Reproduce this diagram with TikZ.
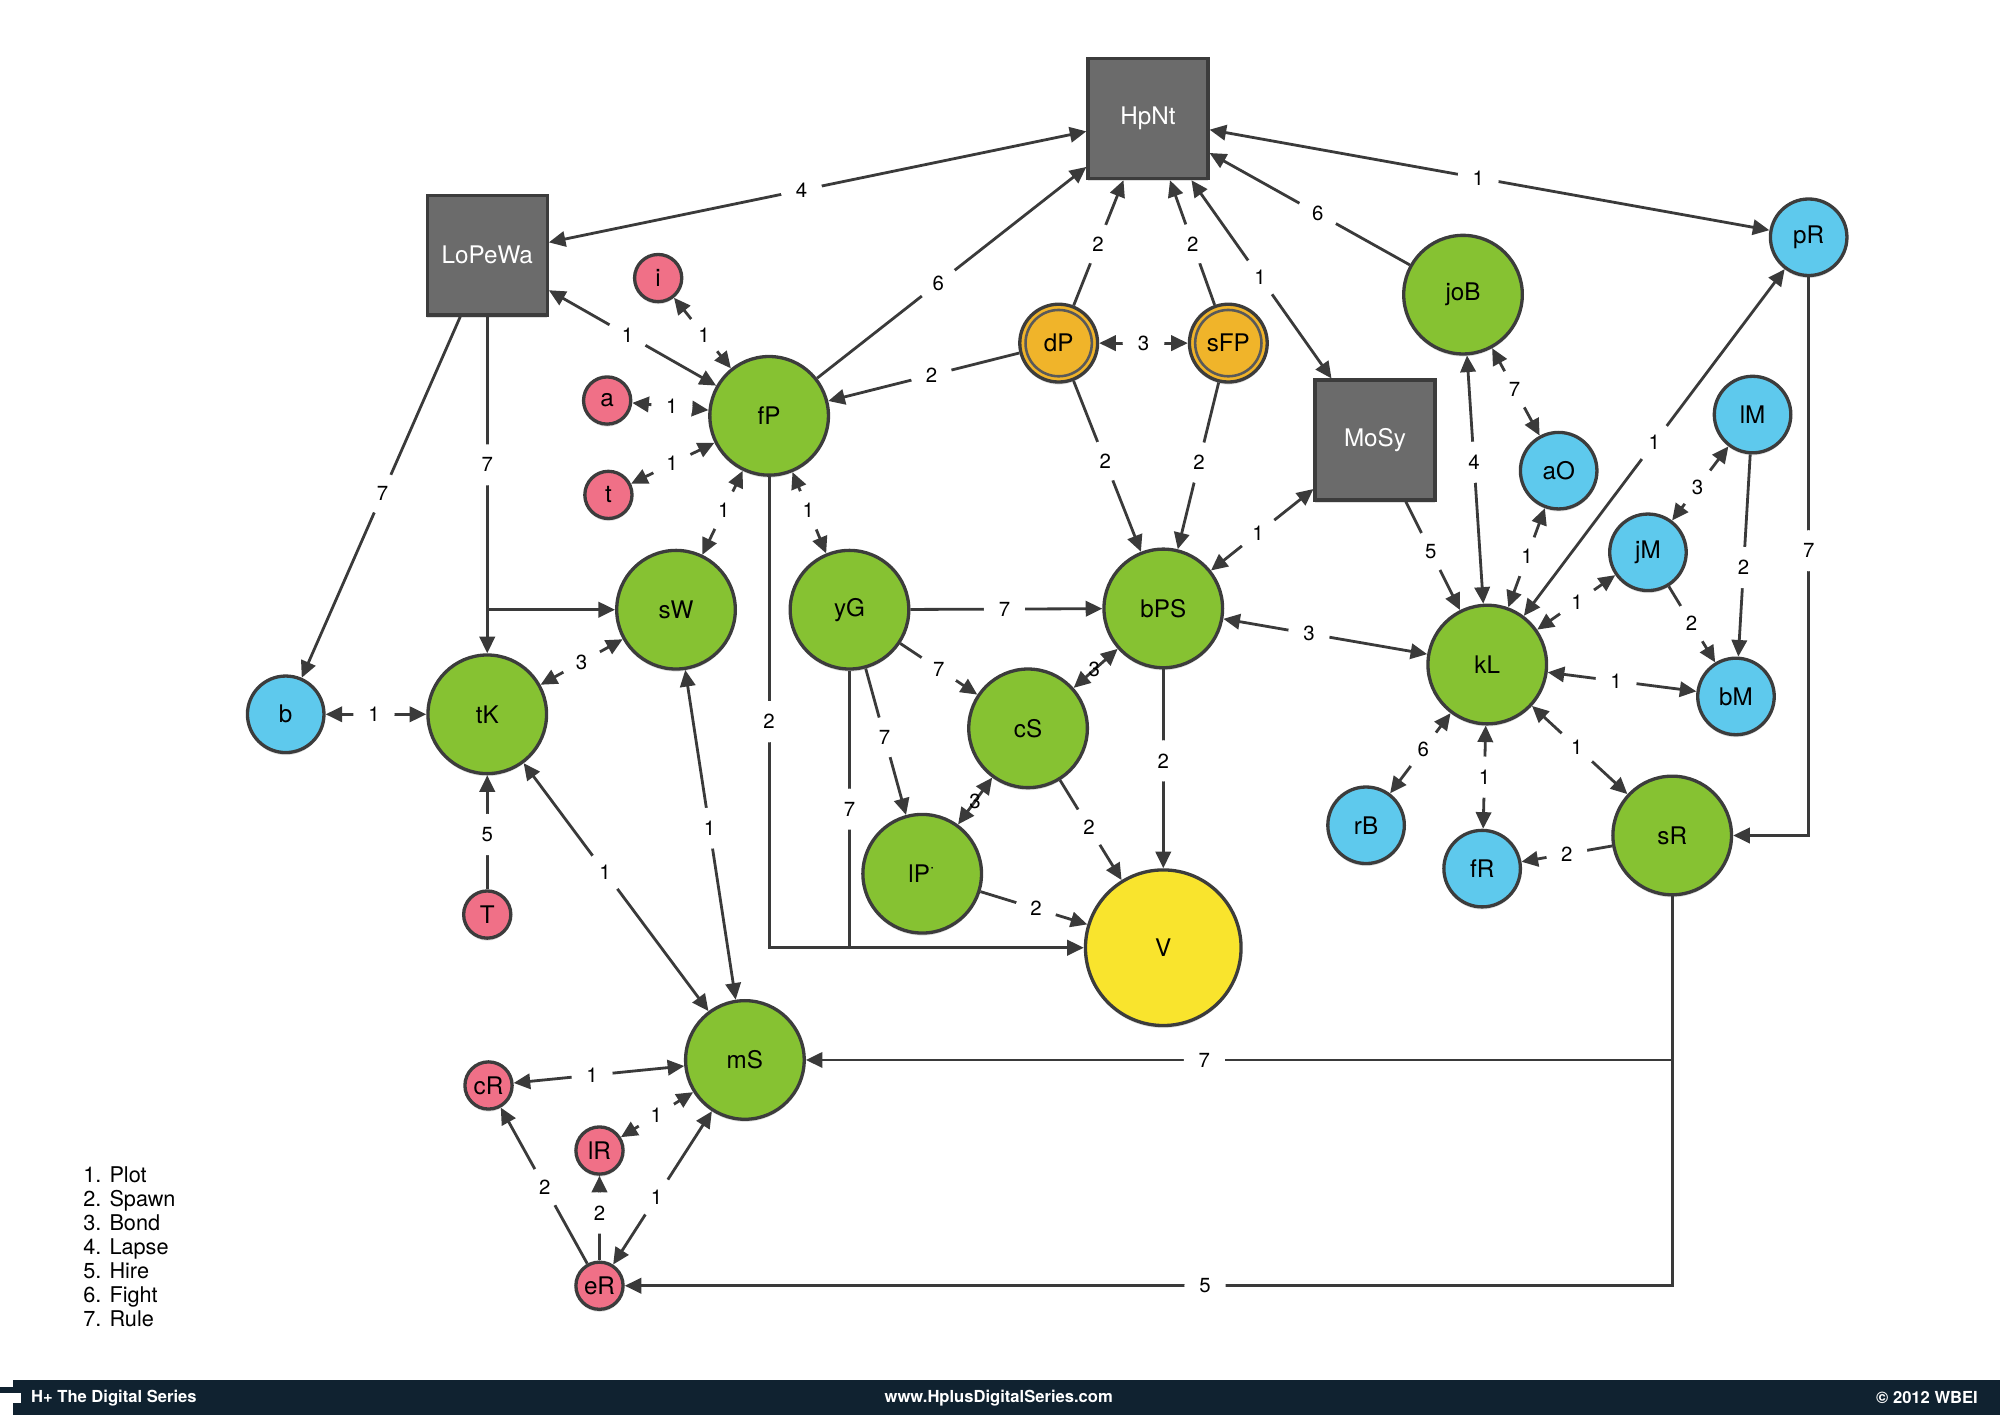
\documentclass[tikz,border=0pt]{standalone}
\usepackage{fontspec}
\setmainfont{TeX Gyre Heros}
\usetikzlibrary{arrows.meta,shadows}
\definecolor{cgreen}{RGB}{134,194,50}
\definecolor{cblue}{RGB}{94,201,237}
\definecolor{cpink}{RGB}{240,112,135}
\definecolor{corange}{RGB}{240,180,42}
\definecolor{cyellow}{RGB}{249,228,45}
\definecolor{cgray}{RGB}{107,107,107}
\definecolor{cline}{RGB}{58,58,58}
\definecolor{cborder}{RGB}{60,60,60}
\definecolor{cfoot}{RGB}{16,34,48}
\begin{document}
\begin{tikzpicture}[x=0.5pt,y=-0.5pt,
  shad/.style={drop shadow={shadow xshift=0pt,shadow yshift=-1pt,opacity=0.25}},
  base/.style={circle,draw=cborder,line width=1.3pt,inner sep=0pt,shad,
    font=\fontsize{9.5}{11}\selectfont,text=black},
  gnode/.style={base,fill=cgreen,minimum size=46.5pt},
  bnode/.style={base,fill=cblue,minimum size=30pt},
  pnode/.style={base,fill=cpink,minimum size=18.5pt},
  onode/.style={base,fill=corange,minimum size=30.5pt},
  ynode/.style={base,fill=cyellow,minimum size=61pt},
  snode/.style={rectangle,draw=cborder,fill=cgray,line width=1.3pt,minimum size=47pt,
    inner sep=0pt,shad,text=white,font=\fontsize{9.5}{11}\selectfont},
  ringline/.style={draw=cborder!85,line width=1pt},
  edge/.style={draw=cline,line width=1.1pt},
  ar/.style={edge,-{Triangle[length=6.5pt,width=6pt]}},
  bi/.style={edge,{Triangle[length=6.5pt,width=6pt]}-{Triangle[length=6.5pt,width=6pt]}},
  lab/.style={circle,fill=white,inner sep=3.2pt,font=\fontsize{8}{9}\selectfont,text=black},
  labt/.style={fill=none,inner sep=0.5pt,font=\fontsize{8}{9}\selectfont,text=black},
]
\useasboundingbox (0,0) rectangle (1568,1109.4);

% squares
\node[snode] (HpNt) at (900,93) {HpNt};
\node[snode] (LoPeWa) at (382,200) {LoPeWa};
\node[snode] (MoSy) at (1078,345) {MoSy};

% green
\node[gnode] (fP) at (603,326) {fP};
\node[gnode] (sW) at (530,478) {sW};
\node[gnode] (yG) at (666,478) {yG};
\node[gnode] (tK) at (382,560) {tK};
\node[gnode] (bPS) at (912,477) {bPS};
\node[gnode] (cS) at (806,571) {cS};
\node[gnode] (lP) at (723,685) {lP\textsuperscript{·}};
\node[gnode] (joB) at (1147,231) {joB};
\node[gnode] (kL) at (1166,521) {kL};
\node[gnode] (sR) at (1311,655) {sR};
\node[gnode] (mS) at (584,831) {mS};
\node[ynode] (V) at (912,743) {V};

% blue
\node[bnode] (b) at (224,560) {b};
\node[bnode] (pR) at (1418,186) {pR};
\node[bnode] (lM) at (1374,325) {lM};
\node[bnode] (aO) at (1222,369) {aO};
\node[bnode] (jM) at (1292,433) {jM};
\node[bnode] (bM) at (1361,546) {bM};
\node[bnode] (rB) at (1071,647) {rB};
\node[bnode] (fR) at (1162,681) {fR};

% pink
\node[pnode] (i) at (516,218) {i};
\node[pnode] (a) at (476,314) {a};
\node[pnode] (t) at (477,388) {t};
\node[pnode] (T) at (382,717) {T};
\node[pnode] (cR) at (383,851) {cR};
\node[pnode] (lR) at (470,902) {lR};
\node[pnode] (eR) at (470,1008) {eR};

% orange double circles
\node[onode] (dP) at (830,269) {dP};
\node[onode] (sFP) at (963,269) {sFP};
\draw[ringline] (dP.center) circle[radius=13pt];
\draw[ringline] (sFP.center) circle[radius=13pt];

% edges
\draw[bi] (LoPeWa) -- node[lab,pos=.47]{4} (HpNt);
\draw[ar] (fP) -- node[lab,pos=.45]{6} (HpNt);
\draw[ar] (dP) -- node[lab,pos=.49]{2} (HpNt);
\draw[ar] (sFP) -- node[lab,pos=.49]{2} (HpNt);
\draw[bi] (HpNt) -- node[lab,pos=.49]{1} (MoSy);
\draw[ar] (joB) -- node[lab,pos=.46]{6} (HpNt);
\draw[bi] (HpNt) -- node[lab,pos=.48]{1} (pR);
\draw[bi] (LoPeWa) -- node[lab,pos=.47]{1} (fP);
\draw[bi] (i) -- node[lab,pos=.53]{1} (fP);
\draw[bi] (a) -- node[lab,pos=.52]{1} (fP);
\draw[bi] (t) -- node[lab,pos=.49]{1} (fP);
\draw[ar] (dP) -- node[lab,pos=.46]{2} (fP);
\draw[bi] (dP) -- node[lab]{3} (sFP);
\draw[ar] (dP) -- node[lab,pos=.47]{2} (bPS);
\draw[ar] (sFP) -- node[lab,pos=.48]{2} (bPS);
\draw[bi] (MoSy) -- node[lab,pos=.54]{1} (bPS);
\draw[ar] (MoSy) -- node[lab,pos=.46]{5} (kL);
\draw[bi] (joB) -- node[lab,pos=.43]{4} (kL);
\draw[bi] (joB) -- node[lab,pos=.47]{7} (aO);
\draw[bi] (aO) -- node[lab,pos=.49]{1} (kL);
\draw[bi] (pR) -- node[lab,pos=.5]{1} (kL);
\draw[bi] (lM) -- node[lab,pos=.55]{3} (jM);
\draw[ar] (lM) -- node[lab,pos=.56]{2} (bM);
\draw[ar] (jM) -- node[lab,pos=.49]{2} (bM);
\draw[bi] (jM) -- node[lab,pos=.49]{1} (kL);
\draw[bi] (kL) -- node[lab,pos=.46]{1} (bM);
\draw[bi] (bPS) -- node[lab,pos=.42]{3} (kL);
\draw[ar] (pR.south) -- node[lab,pos=.49]{7} (pR.south |- sR.east) -- (sR.east);
\draw[bi] (kL) -- node[lab,pos=.45]{6} (rB);
\draw[bi] (kL) -- node[lab,pos=.5]{1} (fR);
\draw[bi] (kL) -- node[lab,pos=.47]{1} (sR);
\draw[ar] (sR) -- node[lab,pos=.5]{2} (fR);
\coordinate (sRm) at (sR.south |- mS.east);
\draw[ar] (sR.south) -- (sRm) -- node[lab,pos=.54]{7} (mS.east);
\draw[ar] (sRm) -- (sR.south |- eR.east) -- node[lab,pos=.446]{5} (eR.east);
\draw[ar] (yG) -- node[lab,pos=.49]{7} (bPS);
\draw[ar] (yG) -- node[lab,pos=.5]{7} (cS);
\draw[ar] (yG) -- node[lab,pos=.47]{7} (lP);
\draw[ar] (fP.south) -- node[lab,pos=.52]{2} (fP.south |- V.west) -- (V.west);
\draw[edge] (yG.south) -- node[lab,pos=.5]{7} (yG.south |- V.west);
\draw[bi] (bPS) -- node[labt,pos=.53]{3} (cS);
\draw[bi] (cS) -- node[labt,pos=.5]{3} (lP);
\draw[ar] (cS) -- node[lab,pos=.47]{2} (V);
\draw[ar] (lP) -- node[lab,pos=.52]{2} (V);
\draw[ar] (bPS) -- node[lab,pos=.46]{2} (V);
\draw[bi] (fP) -- node[lab,pos=.47]{1} (sW);
\draw[bi] (fP) -- node[lab,pos=.47]{1} (yG);
\draw[ar] (LoPeWa) -- node[lab,pos=.49]{7} (b);
\draw[ar] (LoPeWa.south) -- node[lab,pos=.44]{7} (tK.north);
\coordinate (br) at (LoPeWa.south |- sW.west);
\draw[ar] (br) -- (sW.west);
\draw[bi] (tK) -- node[lab,pos=.5]{3} (sW);
\draw[bi] (b) -- node[lab,pos=.48]{1} (tK);
\draw[ar] (T) -- node[lab,pos=.48]{5} (tK);
\draw[bi] (tK) -- node[lab,pos=.44]{1} (mS);
\draw[bi] (sW) -- node[lab,pos=.48]{1} (mS);
\draw[bi] (cR) -- node[lab,pos=.46]{1} (mS);
\draw[bi] (lR) -- node[lab,pos=.49]{1} (mS);
\draw[bi] (eR) -- node[lab,pos=.44]{1} (mS);
\draw[ar] (eR) -- node[lab,pos=.49]{2} (cR);
\draw[ar] (eR) -- node[lab,pos=.56]{2} (lR);

% legend
\node[anchor=north west,align=left,inner sep=0pt,font=\fontsize{8.5}{9.45}\selectfont] (legend) at (65,914)
  {1. Plot\\2. Spawn\\3. Bond\\4. Lapse\\5. Hire\\6. Fight\\7. Rule};

% footer
\fill[cfoot] (0,1082) rectangle (1568,1109.4);
\fill[white] (0,1081) rectangle (10,1087.5);
\fill[white] (0,1092) rectangle (16.5,1100);
\fill[white] (0,1100) rectangle (10,1109.4);
\node[anchor=west,text=white,inner sep=0pt,font=\bfseries\fontsize{6.5}{7}\selectfont] (ft1) at (24,1096) {H+ The Digital Series};
\node[text=white,inner sep=0pt,font=\bfseries\fontsize{6.5}{7}\selectfont] (ft2) at (783,1096) {www.HplusDigitalSeries.com};
\node[anchor=east,text=white,inner sep=0pt,font=\bfseries\fontsize{6.5}{7}\selectfont] (ft3) at (1551,1096) {© 2012 WBEI};
\end{tikzpicture}
\end{document}
